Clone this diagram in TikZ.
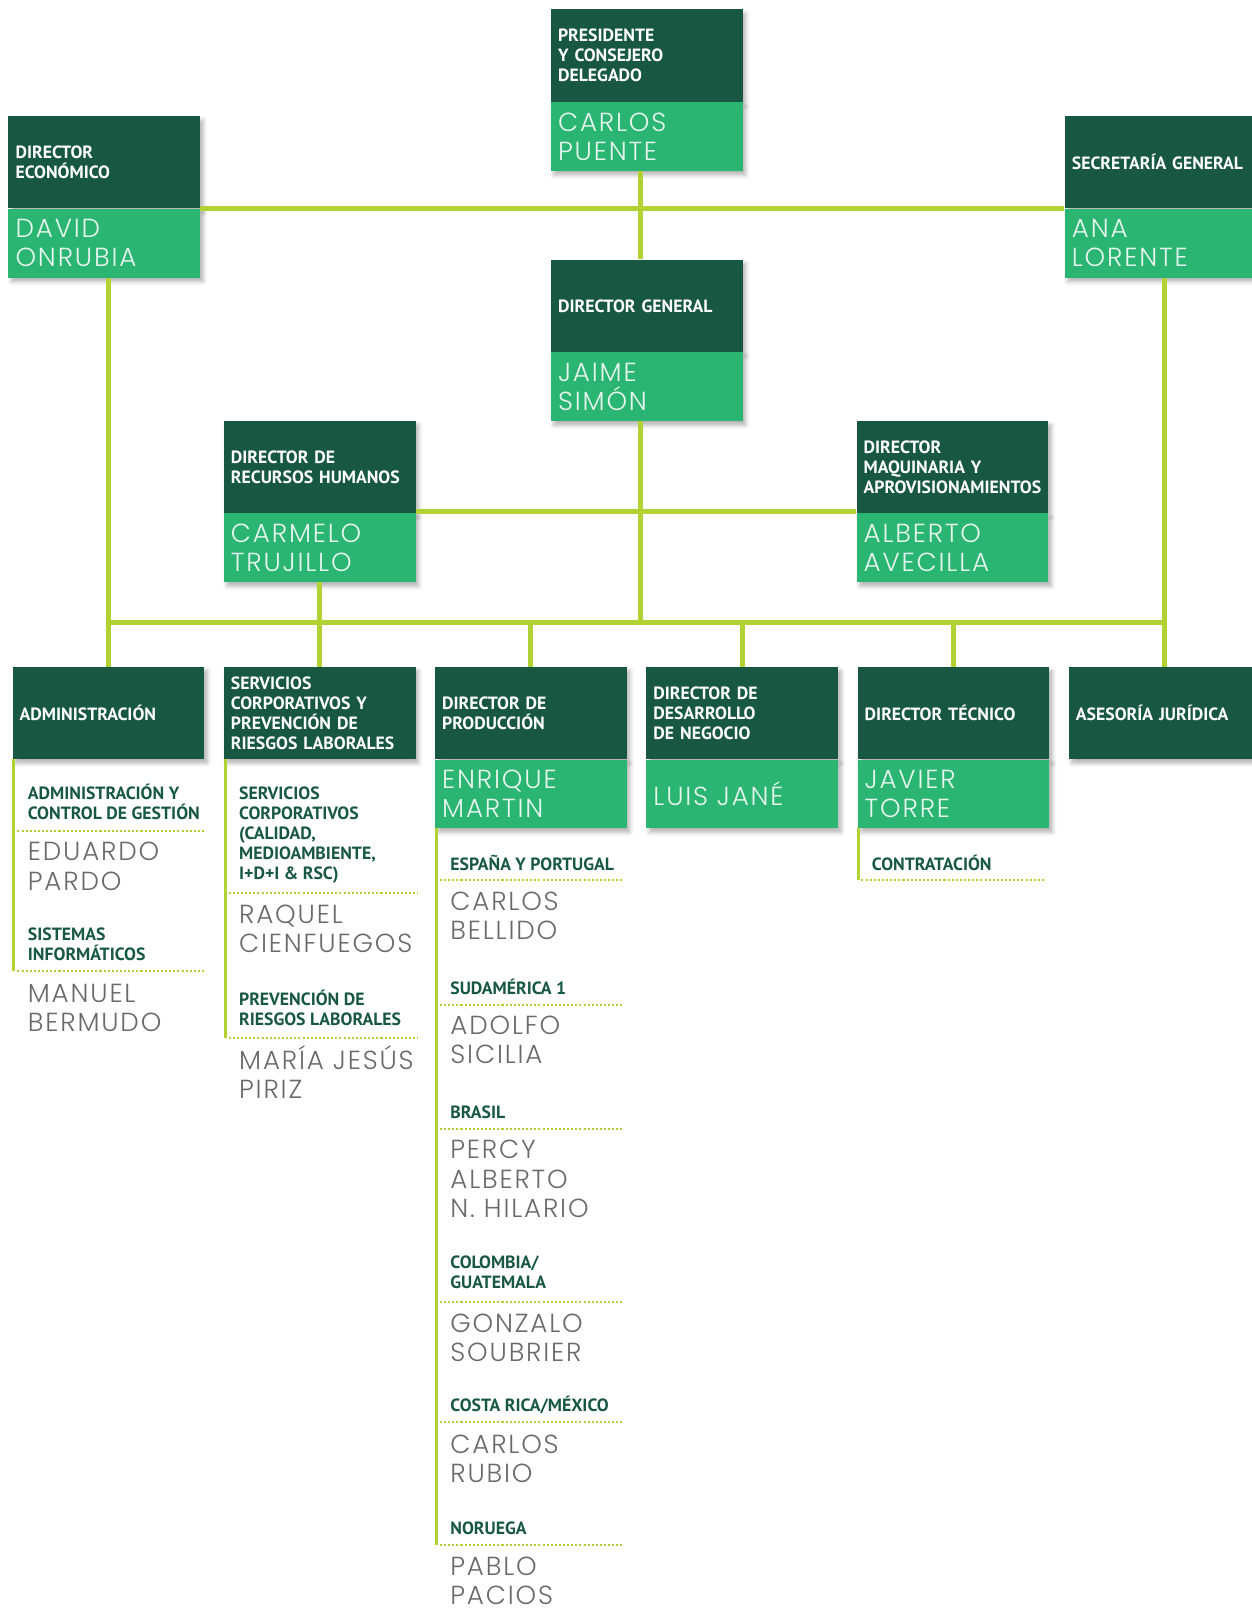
\documentclass[tikz,border=0pt]{standalone}
\usepackage{fontspec}
\usetikzlibrary{positioning,shadows.blur}
\newfontfamily\ptsans{PT Sans}
\IfFontExistsTF{Poppins Light}{\newfontfamily\fina[LetterSpace=7]{Poppins Light}\def\tamnom{25.5}}
{\IfFontExistsTF{DejaVu Sans ExtraLight}{\newfontfamily\fina[LetterSpace=4]{DejaVu Sans ExtraLight}\def\tamnom{25}}
{\IfFontExistsTF{Noto Sans Light}{\newfontfamily\fina[LetterSpace=8]{Noto Sans Light}\def\tamnom{25.5}}
{\IfFontExistsTF{Lato Light}{\newfontfamily\fina[LetterSpace=9]{Lato Light}\def\tamnom{26}}
{\newfontfamily\fina[LetterSpace=6.5]{Poppins}\def\tamnom{25.5}}}}}
\definecolor{verdeosc}{HTML}{185842}
\definecolor{verdecl}{HTML}{2BB573}
\definecolor{lima}{HTML}{B2D234}
\definecolor{gris}{HTML}{6A6A6A}
\newcommand{\fcargo}{\ptsans\bfseries\fontsize{17.3}{19.5}\selectfont}
\newcommand{\fnombre}{\fina\fontsize{\tamnom}{28.5}\selectfont}
\tikzset{
    sombra/.style={blur shadow={shadow xshift=3pt, shadow yshift=-4pt, shadow opacity=30, shadow blur radius=4pt}},
    cargo/.style={fill=verdeosc, text=white, font=\fcargo, anchor=north west, align=left,
        minimum width=187pt, minimum height=90pt, text width=173pt, inner xsep=7pt, inner ysep=0pt, sombra},
    nombre/.style={fill=verdecl, text=white!88!verdecl, font=\fnombre, align=left,
        minimum width=187pt, minimum height=67pt, text width=173pt, inner xsep=7pt, inner ysep=0pt, sombra},
    linea/.style={draw=lima, line width=5pt},
    sublinea/.style={draw=lima, line width=3pt},
    puntos/.style={draw=lima, line width=2pt, dash pattern=on 2pt off 2pt},
    area/.style={text=verdeosc, font=\fcargo, align=left, anchor=base west, inner sep=0pt},
    persona/.style={text=gris, font=\fnombre, align=left, anchor=base west, inner sep=0pt}
}
\begin{document}
\begin{tikzpicture}[x=1pt,y=-1pt]
    \useasboundingbox (0,0) rectangle (1220,1568);
    %cajas de arriba
    \node[cargo] (pres) at (537,9) {PRESIDENTE\\Y CONSEJERO\\DELEGADO};
    \node[nombre, below=0pt of pres] (presN) {CARLOS\\PUENTE};
    \node[cargo] (econ) at (8,113) {DIRECTOR\\ECONÓMICO};
    \node[nombre, below=0pt of econ] (econN) {DAVID\\ONRUBIA};
    \node[cargo] (secr) at (1038,113) {SECRETARÍA GENERAL};
    \node[nombre, below=0pt of secr] (secrN) {ANA\\LORENTE};
    \node[cargo] (dg) at (537,253) {DIRECTOR GENERAL};
    \node[nombre, below=0pt of dg] (dgN) {JAIME\\SIMÓN};
    \node[cargo] (rrhh) at (218,410) {DIRECTOR DE\\RECURSOS HUMANOS};
    \node[nombre, below=0pt of rrhh] (rrhhN) {CARMELO\\TRUJILLO};
    \node[cargo] (maq) at (835,410) {DIRECTOR\\MAQUINARIA Y\\APROVISIONAMIENTOS};
    \node[nombre, below=0pt of maq] (maqN) {ALBERTO\\AVECILLA};
    %fila de abajo
    \node[cargo] (admin) at (12,650) {ADMINISTRACIÓN};
    \node[cargo] (serv) at (218,650) {SERVICIOS\\CORPORATIVOS Y\\PREVENCIÓN DE\\RIESGOS LABORALES};
    \node[cargo] (prod) at (424,650) {DIRECTOR DE\\PRODUCCIÓN};
    \node[nombre, below=0pt of prod] (prodN) {ENRIQUE\\MARTIN};
    \node[cargo] (desa) at (630,650) {DIRECTOR DE\\DESARROLLO\\DE NEGOCIO};
    \node[nombre, below=0pt of desa] (desaN) {LUIS JANÉ};
    \node[cargo] (tec) at (836,650) {DIRECTOR TÉCNICO};
    \node[nombre, below=0pt of tec] (tecN) {JAVIER\\TORRE};
    \node[cargo] (ases) at (1042,650) {ASESORÍA JURÍDICA};
    %lineas
    \coordinate (bus) at (0,607);
    \draw[linea] (econ.south east) -- (secr.south west);
    \draw[linea] ([xshift=-6pt]presN.south) -- ([xshift=-6pt]dg.north);
    \draw[linea] ([xshift=-6pt]dgN.south) -- ([xshift=-6pt]dgN.south |- bus);
    \draw[linea] ([yshift=2pt]rrhh.south east) -- ([yshift=2pt]maq.south west);
    \draw[linea] (admin.north |- econN.south) -- (admin.north);
    \draw[linea] (ases.north |- secrN.south) -- (ases.north);
    \draw[linea] (admin.north |- bus) -- (ases.north |- bus);
    \draw[linea] (rrhhN.south) -- (serv.north);
    \draw[linea] (prod.north |- bus) -- (prod.north);
    \draw[linea] (desa.north |- bus) -- (desa.north);
    \draw[linea] (tec.north |- bus) -- (tec.north);
    %lineas de las areas
    \coordinate (finA) at (13.5,947);
    \coordinate (finB) at (219.5,1012);
    \coordinate (finC) at (425.5,1507);
    \coordinate (finE) at (837.5,858);
    \draw[sublinea] (finA |- admin.south) -- (finA);
    \draw[sublinea] (finB |- serv.south) -- (finB);
    \draw[sublinea] (finC |- prodN.south) -- (finC);
    \draw[sublinea] (finE |- tecN.south) -- (finE);
    %puntos
    \draw[puntos] (17,810) -- (200,810);
    \draw[puntos] (17,947) -- (200,947);
    \draw[puntos] (223,871) -- (408,871);
    \draw[puntos] (223,1012) -- (408,1012);
    \draw[puntos] (429,858) -- (608,858);
    \draw[puntos] (429,980) -- (608,980);
    \draw[puntos] (429,1101) -- (608,1101);
    \draw[puntos] (429,1270) -- (608,1270);
    \draw[puntos] (429,1387) -- (608,1387);
    \draw[puntos] (429,1507) -- (608,1507);
    \draw[puntos] (840,858) -- (1020,858);
    %administracion
    \node[area] (a1) at (27,799) {ADMINISTRACIÓN Y\\CONTROL DE GESTIÓN};
    \node[persona] (n1) at (27,868) {EDUARDO\\PARDO};
    \node[area] (a2) at (27,937) {SISTEMAS\\INFORMÁTICOS};
    \node[persona] (n2) at (27,1006) {MANUEL\\BERMUDO};
    %servicios
    \node[area] (a3) at (233,858) {SERVICIOS\\CORPORATIVOS\\(CALIDAD,\\MEDIOAMBIENTE,\\I+D+I \& RSC)};
    \node[persona] (n3) at (233,929) {RAQUEL\\CIENFUEGOS};
    \node[area] (a4) at (233,1000) {PREVENCIÓN DE\\RIESGOS LABORALES};
    \node[persona] (n4) at (233,1071) {MARÍA JESÚS\\PIRIZ};
    %produccion
    \node[area] (a5) at (439,849) {ESPAÑA Y PORTUGAL};
    \node[persona] (n5) at (439,916) {CARLOS\\BELLIDO};
    \node[area] (a6) at (439,970) {SUDAMÉRICA 1};
    \node[persona] (n6) at (439,1037) {ADOLFO\\SICILIA};
    \node[area] (a7) at (439,1091) {BRASIL};
    \node[persona] (n7) at (439,1187) {PERCY\\ALBERTO\\N. HILARIO};
    \node[area] (a8) at (439,1256) {COLOMBIA/\\GUATEMALA};
    \node[persona] (n8) at (439,1328) {GONZALO\\SOUBRIER};
    \node[area] (a9) at (439,1376) {COSTA RICA/MÉXICO};
    \node[persona] (n9) at (439,1446) {CARLOS\\RUBIO};
    \node[area] (a10) at (439,1496) {NORUEGA};
    \node[persona] (n10) at (439,1565) {PABLO\\PACIOS};
    %tecnico
    \node[area] (a11) at (850,849) {CONTRATACIÓN};
\end{tikzpicture}
\end{document}
